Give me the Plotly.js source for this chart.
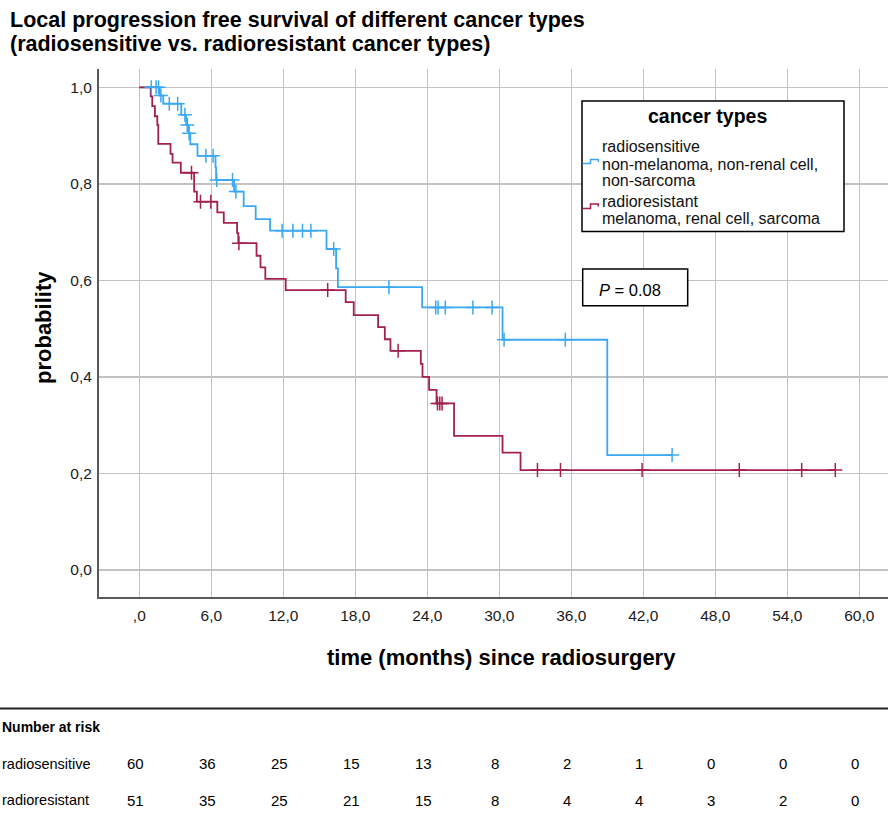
<!DOCTYPE html>
<html><head><meta charset="utf-8">
<script src="https://cdn.plot.ly/plotly-3.0.1.min.js"></script>
<style>html,body{margin:0;padding:0;background:#fff}</style>
</head><body>
<div id="chart" style="width:888px;height:829px"></div>
<script>
// ---------------- data ----------------
const sensName = 'radiosensitive';
const sensStepTimes = [1.7, 2.0, 3.5, 3.9, 4.1, 4.25, 4.85, 6.35, 6.4, 7.9, 8.7, 9.7, 10.9, 15.6, 16.4, 16.55, 23.57, 30.27, 39.0];
const sensStepSurv  = [0.983, 0.966, 0.943, 0.922, 0.905, 0.882, 0.858, 0.834, 0.808, 0.784, 0.754, 0.727, 0.703, 0.665, 0.625, 0.586, 0.544, 0.477, 0.238];
const sensCensorTimes = [1.0, 1.4, 1.6, 1.8, 2.5, 3.2, 3.8, 4.0, 4.15, 5.55, 6.15, 6.45, 7.77, 8.05, 11.9, 12.8, 13.6, 14.3, 16.2, 20.8, 24.7, 24.9, 25.5, 27.8, 29.4, 30.4, 35.5, 44.4];

const resName = 'radioresistant';
const resStepTimes = [0.95, 1.08, 1.3, 1.5, 1.58, 2.6, 2.77, 3.46, 4.57, 4.8, 6.5, 7.04, 8.15, 8.25, 9.77, 10.1, 10.5, 12.2, 17.2, 17.87, 19.9, 20.46, 20.93, 23.46, 23.6, 24.15, 24.77, 26.23, 30.27, 31.77];
const resStepSurv  = [0.981, 0.961, 0.94, 0.922, 0.883, 0.862, 0.844, 0.823, 0.784, 0.763, 0.741, 0.719, 0.698, 0.677, 0.651, 0.627, 0.603, 0.580, 0.555, 0.528, 0.503, 0.478, 0.454, 0.427, 0.40, 0.373, 0.345, 0.278, 0.243, 0.207];
const resCensorTimes = [4.35, 5.1, 5.96, 8.3, 15.7, 21.57, 24.85, 25.04, 25.23, 33.18, 35.1, 41.9, 50.0, 55.2, 58.0];

const xTickVals = [0, 6, 12, 18, 24, 30, 36, 42, 48, 54, 60];
const xTickText = [',0', '6,0', '12,0', '18,0', '24,0', '30,0', '36,0', '42,0', '48,0', '54,0', '60,0'];
const yTickVals = [0, 0.2, 0.4, 0.6, 0.8, 1.0];
const yTickText = ['0,0', '0,2', '0,4', '0,6', '0,8', '1,0'];

const riskTimes = [0, 6, 12, 18, 24, 30, 36, 42, 48, 54, 60];
const riskSens = [60, 36, 25, 15, 13, 8, 2, 1, 0, 0, 0];
const riskRes  = [51, 35, 25, 21, 15, 8, 4, 4, 3, 2, 0];

const titleLines = ['Local progression free survival of different cancer types', '(radiosensitive vs. radioresistant cancer types)'];
const legendTitle = 'cancer types';
const sensLegendLines = ['radiosensitive', 'non-melanoma, non-renal cell,', 'non-sarcoma'];
const resLegendLines = ['radioresistant', 'melanoma, renal cell, sarcoma'];
const pText = '<i>P</i> = 0.08';

// ---------------- helpers ----------------
function survAt(times, survs, t) {
  let s = 1;
  for (let i = 0; i < times.length; i++) { if (times[i] <= t) s = survs[i]; }
  return s;
}
function curve(times, survs, end) {
  const x = [0].concat(times, [end]);
  const y = [1].concat(survs, [survs[survs.length - 1]]);
  return {x, y};
}
const W = 888, H = 829, ML = 99, MR = 0, MT = 69, MB = 232;
const PW = W - ML - MR, PH = H - MT - MB;
const px = v => (v - ML) / PW;
const py = v => (MT + PH - v) / PH;

const BLUE = '#3aa8f2';
const RED = '#a3204f';
const FONT = '"Liberation Sans", Arial, sans-serif';

const sensEnd = Math.max.apply(null, sensCensorTimes);
const resEnd = Math.max.apply(null, resCensorTimes);
const cS = curve(sensStepTimes, sensStepSurv, sensEnd);
const cR = curve(resStepTimes, resStepSurv, resEnd);

const traces = [
  {x: cS.x, y: cS.y, mode: 'lines', line: {shape: 'hv', color: BLUE, width: 1.8}, name: sensName, hoverinfo: 'skip'},
  {x: cR.x, y: cR.y, mode: 'lines', line: {shape: 'hv', color: RED, width: 1.8}, name: resName, hoverinfo: 'skip'},
  {x: sensCensorTimes, y: sensCensorTimes.map(t => survAt(sensStepTimes, sensStepSurv, t)), mode: 'markers',
   marker: {symbol: 'cross-thin-open', size: 10, color: BLUE, line: {color: BLUE, width: 1.5}}, name: sensName + ' censored'},
  {x: resCensorTimes, y: resCensorTimes.map(t => survAt(resStepTimes, resStepSurv, t)), mode: 'markers',
   marker: {symbol: 'cross-thin-open', size: 10, color: RED, line: {color: RED, width: 1.5}}, name: resName + ' censored'}
];

const annotations = [];
const shapes = [];

// title lines
annotations.push({xref: 'paper', yref: 'paper', x: px(8), y: py(6), xanchor: 'left', yanchor: 'top', showarrow: false,
  text: '<b>' + titleLines[0] + '</b>', font: {family: FONT, size: 21.5, color: '#000'}});
annotations.push({xref: 'paper', yref: 'paper', x: px(8), y: py(29.5), xanchor: 'left', yanchor: 'top', showarrow: false,
  text: '<b>' + titleLines[1] + '</b>', font: {family: FONT, size: 21.5, color: '#000'}});

// axis titles
annotations.push({xref: 'paper', yref: 'paper', x: px(43), y: py(328), xanchor: 'center', yanchor: 'middle', showarrow: false,
  textangle: -90, text: '<b>probability</b>', font: {family: FONT, size: 22, color: '#000'}});
annotations.push({xref: 'paper', yref: 'paper', x: px(501), y: py(657), xanchor: 'center', yanchor: 'middle', showarrow: false,
  text: '<b>time (months) since radiosurgery</b>', font: {family: FONT, size: 22, color: '#000'}});

// legend box
shapes.push({type: 'rect', xref: 'paper', yref: 'paper', x0: px(582), x1: px(844), y0: py(101), y1: py(231.5),
  line: {color: '#000', width: 1.5}, fillcolor: '#fff', layer: 'above'});
annotations.push({xref: 'paper', yref: 'paper', x: px(707), y: py(116), xanchor: 'center', yanchor: 'middle', showarrow: false,
  text: '<b>' + legendTitle + '</b>', font: {family: FONT, size: 19.5, color: '#000'}});
const sensLineY = [146.7, 164, 180.5];
sensLegendLines.forEach((t, i) => annotations.push({xref: 'paper', yref: 'paper', x: px(600), y: py(sensLineY[i]), xanchor: 'left', yanchor: 'middle',
  showarrow: false, text: t, font: {family: FONT, size: 16, color: '#111'}}));
const resLineY = [201, 218];
resLegendLines.forEach((t, i) => annotations.push({xref: 'paper', yref: 'paper', x: px(600), y: py(resLineY[i]), xanchor: 'left', yanchor: 'middle',
  showarrow: false, text: t, font: {family: FONT, size: 16, color: '#111'}}));
function icon(yLow, yHigh, color) {
  const p = 'M' + px(582.5) + ',' + py(yLow) + ' L' + px(590.5) + ',' + py(yLow) + ' L' + px(590.5) + ',' + py(yHigh) +
            ' L' + px(598.3) + ',' + py(yHigh) + ' L' + px(598.3) + ',' + py(yHigh + 2.5);
  return {type: 'path', xref: 'paper', yref: 'paper', path: p, line: {color: color, width: 1.5}, layer: 'above'};
}
shapes.push(icon(163.5, 159.5, BLUE));
shapes.push(icon(208.5, 204, RED));

// P box
shapes.push({type: 'rect', xref: 'paper', yref: 'paper', x0: px(582.7), x1: px(687.7), y0: py(269), y1: py(305.7),
  line: {color: '#000', width: 1.5}, fillcolor: '#fff', layer: 'above'});
annotations.push({xref: 'paper', yref: 'paper', x: px(597), y: py(289.5), xanchor: 'left', yanchor: 'middle', showarrow: false,
  text: pText, font: {family: FONT, size: 16.5, color: '#000'}});

// number at risk table
shapes.push({type: 'line', xref: 'paper', yref: 'paper', x0: px(0), x1: px(888), y0: py(708.5), y1: py(708.5),
  line: {color: '#222', width: 2}});
annotations.push({xref: 'paper', yref: 'paper', x: px(0), y: py(727), xanchor: 'left', yanchor: 'middle', showarrow: false,
  text: '<b>Number at risk</b>', font: {family: FONT, size: 14, color: '#000'}});
annotations.push({xref: 'paper', yref: 'paper', x: px(0), y: py(763.5), xanchor: 'left', yanchor: 'middle', showarrow: false,
  text: sensName, font: {family: FONT, size: 14.5, color: '#000'}});
annotations.push({xref: 'paper', yref: 'paper', x: px(0), y: py(800), xanchor: 'left', yanchor: 'middle', showarrow: false,
  text: resName, font: {family: FONT, size: 14.5, color: '#000'}});
riskTimes.forEach((t, i) => {
  annotations.push({xref: 'x', yref: 'paper', x: t, xshift: -4, y: py(763.5), xanchor: 'center', yanchor: 'middle', showarrow: false,
    text: String(riskSens[i]), font: {family: FONT, size: 15, color: '#000'}});
  annotations.push({xref: 'x', yref: 'paper', x: t, xshift: -4, y: py(800), xanchor: 'center', yanchor: 'middle', showarrow: false,
    text: String(riskRes[i]), font: {family: FONT, size: 15, color: '#000'}});
});

const layout = {
  width: W, height: H,
  margin: {l: ML, r: MR, t: MT, b: MB, pad: 0},
  paper_bgcolor: '#fff', plot_bgcolor: '#fff',
  showlegend: false,
  font: {family: FONT, color: '#1a1a1a'},
  xaxis: {range: [-(139.3 - ML) / 12, -(139.3 - ML) / 12 + PW / 12], tickvals: xTickVals, ticktext: xTickText,
    showgrid: true, gridcolor: '#c2c2c2', gridwidth: 1.5, zeroline: false,
    showline: true, linecolor: '#5a5a5a', linewidth: 2, ticks: '', ticklabelstandoff: 3,
    tickfont: {family: FONT, size: 15.5, color: '#1a1a1a'}, fixedrange: true},
  yaxis: {range: [-(597 - 570) / 482.7, -(597 - 570) / 482.7 + PH / 482.7], tickvals: yTickVals, ticktext: yTickText,
    showgrid: true, gridcolor: '#c2c2c2', gridwidth: 1.5, zeroline: false,
    showline: true, linecolor: '#5a5a5a', linewidth: 2, ticks: '', ticklabelstandoff: 2,
    tickfont: {family: FONT, size: 15.5, color: '#1a1a1a'}, fixedrange: true},
  annotations: annotations,
  shapes: shapes
};

Plotly.newPlot('chart', traces, layout, {staticPlot: true, displayModeBar: false});
</script>
</body></html>
